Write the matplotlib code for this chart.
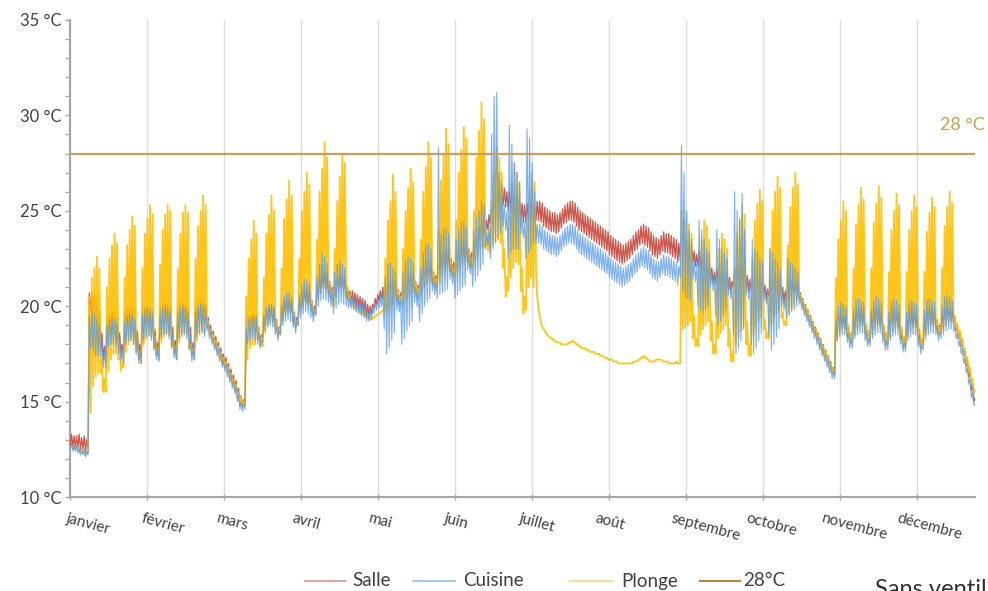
import numpy as np
import matplotlib
matplotlib.use("Agg")
import matplotlib.pyplot as plt
from matplotlib.lines import Line2D

plt.rcParams['font.family'] = ['Lato', 'DejaVu Sans']

months = ["janvier", "février", "mars", "avril", "mai", "juin", "juillet",
          "août", "septembre", "octobre", "novembre", "décembre"]
y_ticks = [10, 15, 20, 25, 30, 35]
threshold = 28
days_per_month_tick = 730 / 24.0  # hourly axis, one label every 730 h

# daily (first sample, second sample) values, day 0 = 1 Jan
salle_hi = [
    13.3, 13.2, 13.2, 13.3, 13.1, 13.2, 13.0,
    20.7, 20.7, 20.6, 20.4, 19.8, 18.6, 17.9,
    19.5, 19.7, 19.8, 19.7, 19.5, 18.6, 18.0,
    19.7, 19.9, 20.0, 19.9, 19.7, 18.7, 18.0,
    19.9, 20.1, 20.1, 20.0, 19.8, 18.8, 18.1,
    20.0, 20.1, 20.2, 20.1, 19.9, 18.9, 18.2,
    20.0, 20.2, 20.2, 20.1, 19.9, 18.9, 18.1,
    20.0, 20.3, 20.4, 20.3, 20.1,
    19.4, 19.0, 18.7, 18.4, 18.1, 17.8, 17.5, 17.3, 17.0, 16.7, 16.4, 16.1, 15.7, 15.3, 15.1,
    19.3, 19.5, 19.6, 19.6, 19.5, 18.9, 18.5,
    19.6, 19.9, 20.0, 20.0, 19.9, 19.3, 18.9,
    20.0, 20.3, 20.4, 20.4, 20.3, 19.7, 19.4,
    20.4, 20.7, 20.9, 20.9, 20.8, 20.3, 20.0,
    21.0, 21.4, 21.7, 21.8, 21.7, 21.3, 21.0,
    21.3, 21.5, 21.6, 21.6, 21.5, 21.0, 20.8,
    20.8, 20.7, 20.6, 20.5, 20.4, 20.3, 20.1, 20.0, 20.1, 20.4, 20.6, 20.8, 21.0,
    21.0, 21.3, 21.4, 21.4, 21.3, 20.9, 20.7,
    21.2, 21.5, 21.7, 21.8, 21.7, 21.3, 21.1,
    21.6, 22.0, 22.2, 22.3, 22.2, 21.8, 21.6,
    22.2, 22.6, 22.9, 23.0, 22.9, 22.5, 22.3,
    22.7, 23.0, 23.3, 23.4, 23.3, 23.0, 22.8,
    23.2, 23.7, 24.1, 24.4, 24.6, 24.5, 24.8,
    25.2, 25.5, 25.8, 26.1, 26.3, 26.2, 26.0,
    26.0, 26.0, 25.9, 25.7, 25.6, 25.4, 25.3,
    25.4, 25.5, 25.4, 25.3,
    25.5, 25.5, 25.4, 25.2, 25.1, 25.0, 24.9, 24.9, 24.8, 24.9, 25.1, 25.3, 25.4, 25.5,
    25.5, 25.4, 25.2, 25.0, 24.9, 24.8, 24.7, 24.6, 24.5, 24.4, 24.3, 24.2, 24.1, 24.0,
    23.9, 23.7, 23.6, 23.5, 23.4, 23.3, 23.2, 23.3, 23.4, 23.5, 23.7, 23.9, 24.0, 24.2,
    24.3, 24.2, 24.1, 23.9, 23.7, 23.6, 23.5, 23.7, 23.9, 23.8, 23.8, 23.7, 23.6, 23.5, 23.3,
    23.6, 23.5, 23.4, 23.3, 23.2, 22.9, 22.7,
    22.9, 22.8, 22.7, 22.5, 22.3, 22.0, 21.8,
    21.9, 22.0, 22.0, 21.9, 21.8, 21.5, 21.3,
    21.9, 22.2, 22.3, 22.2, 22.0, 21.6, 21.4,
    21.5, 21.8, 21.9, 21.8, 21.6, 21.1, 20.9,
    21.2, 21.6, 21.7, 21.6, 21.5, 21.0, 20.8,
    21.0, 21.3, 21.4, 21.3, 21.1,
    20.7, 20.4, 20.1, 19.8, 19.5, 19.2, 18.9, 18.6, 18.3, 18.0, 17.7, 17.4, 17.1, 16.8,
    19.6, 19.7, 19.6, 19.5, 19.4, 18.9, 18.6,
    19.5, 19.8, 19.9, 19.8, 19.7, 19.0, 18.7,
    19.5, 19.8, 19.9, 19.8, 19.7, 19.0, 18.6,
    19.4, 19.7, 19.8, 19.7, 19.6, 18.8, 18.4,
    19.4, 19.7, 19.8, 19.7, 19.6, 18.8, 18.3,
    19.5, 19.8, 19.9, 19.9, 19.8, 19.3, 19.0,
    19.7, 19.9, 20.0, 19.9, 19.8,
    19.4, 19.0, 18.6, 18.2, 17.7, 17.2, 16.6, 15.9, 15.2,
]
salle_lo = [
    12.7, 12.6, 12.6, 12.6, 12.5, 12.5, 12.4,
    12.5, 19.8, 19.5, 19.0, 18.6, 17.9, 17.2,
    17.2, 18.6, 18.8, 18.8, 18.6, 18.0, 17.5,
    17.5, 18.8, 19.0, 19.0, 18.8, 18.0, 17.4,
    17.4, 18.9, 19.1, 19.1, 18.9, 18.1, 17.5,
    17.5, 19.0, 19.2, 19.2, 19.0, 18.2, 17.6,
    17.6, 19.0, 19.2, 19.2, 19.0, 18.1, 17.5,
    17.5, 19.1, 19.3, 19.3, 19.1,
    19.0, 18.6, 18.3, 18.0, 17.7, 17.4, 17.1, 16.9, 16.6, 16.3, 16.0, 15.7, 15.3, 14.8, 14.7,
    14.8, 18.8, 19.0, 19.0, 18.9, 18.4, 18.0,
    18.4, 19.2, 19.4, 19.4, 19.3, 18.8, 18.5,
    18.9, 19.6, 19.8, 19.8, 19.7, 19.2, 18.9,
    19.3, 20.0, 20.2, 20.2, 20.1, 19.8, 19.5,
    19.9, 20.6, 20.9, 21.0, 20.9, 20.6, 20.4,
    20.3, 20.8, 20.9, 21.0, 20.9, 20.5, 20.3,
    20.2, 20.1, 20.0, 19.9, 19.8, 19.7, 19.5, 19.5, 19.6, 19.9, 20.1, 20.3, 20.4,
    20.3, 20.6, 20.7, 20.7, 20.6, 20.3, 20.1,
    20.5, 20.8, 21.0, 21.1, 21.0, 20.7, 20.5,
    20.9, 21.3, 21.5, 21.6, 21.5, 21.2, 21.0,
    21.5, 21.9, 22.1, 22.2, 22.1, 21.8, 21.6,
    22.0, 22.3, 22.5, 22.6, 22.5, 22.3, 22.1,
    22.5, 23.0, 23.3, 23.6, 23.8, 23.8, 24.0,
    24.3, 24.6, 24.9, 25.2, 25.4, 25.3, 25.2,
    25.0, 25.0, 24.9, 24.8, 24.6, 24.5, 24.4,
    24.4, 24.5, 24.5, 24.6,
    24.5, 24.5, 24.4, 24.2, 24.1, 24.0, 23.9, 23.9, 23.8, 23.9, 24.1, 24.3, 24.4, 24.5,
    24.5, 24.4, 24.2, 24.0, 23.9, 23.8, 23.7, 23.6, 23.5, 23.4, 23.3, 23.2, 23.1, 23.0,
    22.9, 22.7, 22.6, 22.5, 22.4, 22.3, 22.2, 22.3, 22.4, 22.5, 22.7, 22.9, 23.0, 23.2,
    23.3, 23.2, 23.1, 22.9, 22.7, 22.6, 22.5, 22.7, 22.9, 22.8, 22.8, 22.7, 22.6, 22.5, 22.3,
    22.4, 22.6, 22.6, 22.5, 22.4, 22.3, 22.1,
    22.1, 22.0, 21.9, 21.8, 21.6, 21.4, 21.2,
    21.2, 21.3, 21.3, 21.2, 21.1, 20.9, 20.8,
    21.0, 21.4, 21.5, 21.4, 21.3, 21.0, 20.8,
    20.8, 21.1, 21.2, 21.1, 21.0, 20.6, 20.4,
    20.5, 20.9, 21.0, 20.9, 20.8, 20.4, 20.2,
    20.4, 20.7, 20.8, 20.7, 20.6,
    20.4, 20.1, 19.8, 19.5, 19.2, 18.9, 18.6, 18.3, 18.0, 17.7, 17.4, 17.1, 16.8, 16.5,
    16.4, 19.0, 19.0, 18.9, 18.8, 18.4, 18.1,
    18.1, 19.1, 19.2, 19.2, 19.1, 18.6, 18.2,
    18.2, 19.1, 19.2, 19.2, 19.1, 18.5, 18.0,
    18.0, 19.0, 19.1, 19.1, 19.0, 18.3, 17.9,
    17.9, 19.0, 19.1, 19.1, 19.0, 18.3, 17.8,
    18.0, 19.1, 19.2, 19.2, 19.1, 18.8, 18.5,
    18.6, 19.2, 19.3, 19.3, 19.2,
    19.1, 18.7, 18.3, 17.9, 17.4, 16.9, 16.3, 15.6, 15.0,
]
cuisine_hi = [
    12.8, 12.7, 12.7, 12.6, 12.5, 12.5, 12.4,
    19.5, 19.8, 19.6, 19.3, 19.0, 18.2, 17.6,
    19.0, 19.3, 19.4, 19.3, 19.1, 18.3, 17.7,
    19.2, 19.5, 19.6, 19.5, 19.3, 18.4, 17.7,
    19.5, 19.8, 19.9, 19.8, 19.6, 18.5, 17.8,
    19.6, 19.9, 20.0, 19.9, 19.7, 18.6, 17.9,
    19.6, 19.9, 20.0, 19.9, 19.7, 18.6, 17.8,
    19.7, 20.0, 20.1, 20.0, 19.8,
    19.1, 18.7, 18.4, 18.1, 17.8, 17.5, 17.2, 17.0, 16.7, 16.4, 16.1, 15.8, 15.4, 15.0, 14.9,
    18.8, 19.3, 19.4, 19.5, 19.4, 18.6, 18.2,
    19.5, 19.9, 20.1, 20.1, 20.0, 19.0, 18.7,
    20.0, 20.5, 20.7, 20.7, 20.5, 19.5, 19.2,
    20.6, 21.1, 21.4, 21.4, 21.2, 20.1, 19.8,
    21.5, 22.2, 22.8, 22.6, 22.3, 21.1, 20.8,
    21.8, 22.2, 22.4, 22.2, 22.0, 20.8, 20.5,
    20.5, 20.4, 20.3, 20.2, 20.1, 20.0, 19.8, 19.8, 19.9, 20.2, 20.4, 20.5, 20.7,
    21.5, 22.2, 22.3, 22.0, 21.8, 20.6, 20.4,
    21.8, 22.4, 22.6, 22.5, 22.3, 21.0, 20.8,
    22.0, 22.8, 23.2, 23.3, 23.0, 21.5, 21.3,
    28.3, 23.8, 24.0, 24.1, 23.8, 22.2, 22.0,
    23.5, 24.0, 24.4, 24.5, 24.2, 22.7, 22.5,
    24.0, 24.6, 25.0, 25.5, 25.3, 23.8, 24.2,
    29.0, 31.0, 31.2, 27.0, 26.5, 25.3, 25.0,
    29.5, 28.5, 27.5, 27.0, 26.5, 24.6, 24.4,
    29.3, 28.8, 27.5, 26.0,
    24.3, 24.3, 24.2, 24.0, 23.9, 23.8, 23.7, 23.7, 23.6, 23.7, 23.9, 24.1, 24.2, 24.3,
    24.3, 24.2, 24.0, 23.8, 23.7, 23.6, 23.5, 23.4, 23.3, 23.2, 23.1, 23.0, 22.9, 22.8,
    22.7, 22.5, 22.4, 22.3, 22.2, 22.1, 22.0, 22.1, 22.2, 22.3, 22.5, 22.7, 22.8, 23.0,
    23.1, 23.0, 22.9, 22.7, 22.5, 22.4, 22.3, 22.5, 22.7, 22.6, 22.6, 22.5, 22.4, 22.3, 22.1,
    28.4, 27.0, 25.0, 24.0, 23.5, 22.4, 22.2,
    24.5, 24.0, 23.5, 23.0, 22.8, 21.8, 21.6,
    24.0, 23.5, 23.0, 22.8, 22.5, 21.3, 21.0,
    26.0, 25.0, 24.5, 25.9, 24.0, 21.4, 21.2,
    23.5, 23.0, 22.8, 22.5, 22.3, 21.0, 20.8,
    23.0, 22.8, 22.5, 22.3, 22.0, 20.7, 20.5,
    22.5, 22.3, 22.2, 22.0, 21.8,
    20.5, 20.2, 19.9, 19.6, 19.3, 19.0, 18.7, 18.4, 18.1, 17.8, 17.5, 17.2, 16.9, 16.6,
    19.3, 20.0, 20.2, 20.1, 20.0, 18.6, 18.3,
    19.8, 20.3, 20.4, 20.3, 20.2, 18.7, 18.3,
    19.8, 20.3, 20.5, 20.4, 20.2, 18.6, 18.2,
    19.7, 20.2, 20.4, 20.3, 20.1, 18.5, 18.1,
    19.7, 20.2, 20.3, 20.2, 20.1, 18.5, 18.0,
    19.8, 20.3, 20.4, 20.3, 20.2, 19.0, 18.7,
    20.0, 20.5, 20.6, 20.5, 20.3,
    19.0, 18.6, 18.2, 17.8, 17.3, 16.8, 16.2, 15.5, 14.9,
]
cuisine_lo = [
    12.5, 12.4, 12.4, 12.3, 12.2, 12.2, 12.1,
    12.2, 17.8, 17.6, 17.4, 17.4, 17.4, 16.8,
    16.8, 17.8, 18.0, 18.0, 17.9, 17.5, 17.1,
    17.0, 18.0, 18.2, 18.2, 18.0, 17.5, 17.0,
    17.0, 18.2, 18.4, 18.4, 18.2, 17.7, 17.2,
    17.1, 18.3, 18.5, 18.5, 18.3, 17.8, 17.3,
    17.2, 18.3, 18.5, 18.5, 18.3, 17.7, 17.1,
    17.2, 18.4, 18.6, 18.6, 18.4,
    18.7, 18.3, 18.0, 17.7, 17.4, 17.1, 16.8, 16.6, 16.3, 16.0, 15.7, 15.4, 15.0, 14.6, 14.5,
    14.6, 18.0, 18.2, 18.3, 18.2, 18.0, 17.8,
    18.1, 18.7, 18.9, 19.0, 18.9, 18.5, 18.2,
    18.5, 19.0, 19.2, 19.3, 19.2, 18.9, 18.6,
    19.0, 19.4, 19.6, 19.7, 19.6, 19.4, 19.2,
    19.5, 20.0, 20.3, 20.4, 20.3, 20.2, 20.0,
    19.6, 19.9, 20.1, 20.2, 20.1, 20.0, 19.9,
    19.9, 19.8, 19.7, 19.6, 19.5, 19.4, 19.2, 19.2, 19.3, 19.6, 19.8, 19.9, 20.0,
    18.8, 17.5, 17.8, 18.2, 18.6, 19.8, 19.7,
    18.0, 18.3, 18.7, 19.0, 19.2, 20.2, 20.0,
    19.2, 19.6, 20.0, 20.2, 20.4, 20.8, 20.6,
    20.4, 20.6, 20.7, 20.8, 20.9, 21.4, 21.2,
    20.4, 20.6, 20.8, 21.0, 21.1, 21.9, 21.7,
    21.0, 21.3, 21.6, 21.9, 22.2, 23.0, 23.2,
    22.5, 23.0, 23.3, 23.6, 23.8, 24.2, 24.0,
    22.5, 22.8, 23.0, 23.0, 23.0, 23.8, 23.6,
    22.5, 22.8, 23.0, 23.3,
    23.3, 23.3, 23.2, 23.0, 22.9, 22.8, 22.7, 22.7, 22.6, 22.7, 22.9, 23.1, 23.2, 23.3,
    23.3, 23.2, 23.0, 22.8, 22.7, 22.6, 22.5, 22.4, 22.3, 22.2, 22.1, 22.0, 21.9, 21.8,
    21.7, 21.5, 21.4, 21.3, 21.2, 21.1, 21.0, 21.1, 21.2, 21.3, 21.5, 21.7, 21.8, 22.0,
    22.1, 22.0, 21.9, 21.7, 21.5, 21.4, 21.3, 21.5, 21.7, 21.6, 21.6, 21.5, 21.4, 21.3, 21.1,
    21.5, 20.8, 20.5, 20.4, 20.3, 21.4, 21.3,
    20.0, 19.8, 19.6, 19.8, 20.0, 21.0, 20.8,
    19.5, 19.0, 19.2, 19.5, 19.8, 20.6, 20.4,
    18.5, 17.5, 17.8, 18.2, 18.8, 20.6, 20.4,
    18.0, 17.5, 17.8, 18.2, 18.6, 20.3, 20.1,
    18.5, 17.7, 18.0, 18.4, 18.8, 20.0, 19.8,
    19.4, 19.5, 19.7, 19.8, 20.0,
    20.1, 19.8, 19.5, 19.2, 18.9, 18.6, 18.3, 18.0, 17.7, 17.4, 17.1, 16.8, 16.5, 16.2,
    16.2, 18.2, 18.4, 18.5, 18.5, 18.1, 17.8,
    17.8, 18.3, 18.5, 18.6, 18.6, 18.2, 17.9,
    17.9, 18.3, 18.5, 18.6, 18.6, 18.1, 17.7,
    17.7, 18.2, 18.4, 18.5, 18.5, 18.0, 17.6,
    17.6, 18.2, 18.4, 18.5, 18.5, 17.9, 17.5,
    17.7, 18.3, 18.5, 18.6, 18.6, 18.5, 18.2,
    18.3, 18.5, 18.7, 18.8, 18.8,
    18.7, 18.3, 17.9, 17.5, 17.0, 16.5, 15.9, 15.2, 14.8,
]
plonge_hi = [
    12.7, 12.6, 12.6, 12.5, 12.4, 12.4, 12.3,
    20.5, 21.5, 22.0, 22.6, 22.0, 17.2, 16.2,
    21.0, 22.5, 23.2, 23.8, 23.3, 17.8, 17.0,
    21.5, 23.2, 24.0, 24.7, 24.2, 18.2, 17.6,
    22.0, 23.8, 24.6, 25.3, 24.8, 18.4, 17.8,
    22.2, 24.0, 24.8, 25.3, 25.0, 18.5, 17.9,
    22.0, 23.8, 24.9, 25.3, 24.9, 18.4, 17.8,
    22.5, 24.2, 25.0, 25.8, 25.3,
    19.2, 18.8, 18.5, 18.2, 17.9, 17.6, 17.3, 17.1, 16.8, 16.5, 16.2, 15.9, 15.5, 15.2, 15.0,
    20.5, 22.5, 23.5, 24.5, 23.8, 18.8, 18.2,
    21.5, 23.8, 24.8, 25.8, 25.0, 19.2, 18.7,
    22.0, 24.6, 25.6, 26.6, 25.8, 19.6, 19.2,
    22.5, 25.0, 26.0, 27.0, 26.4, 20.2, 19.8,
    23.5, 26.0, 27.2, 28.6, 27.8, 21.2, 20.8,
    23.0, 25.5, 26.8, 28.0, 27.5, 21.0, 20.6,
    20.2, 20.0, 19.9, 19.8, 19.7, 19.6, 19.5, 19.4, 19.4, 19.5, 19.6, 19.7, 19.8,
    22.5, 24.5, 25.5, 26.9, 26.0, 20.8, 20.5,
    23.0, 25.0, 26.2, 27.2, 26.5, 21.2, 20.9,
    23.5, 26.0, 27.3, 28.6, 27.8, 21.7, 21.4,
    24.0, 26.6, 28.0, 29.3, 28.5, 22.3, 22.0,
    24.5, 27.0, 28.2, 29.4, 28.8, 22.8, 22.5,
    25.0, 27.8, 29.2, 30.7, 29.8, 24.0, 23.8,
    25.5, 27.0, 28.3, 27.8, 27.0, 23.0, 21.5,
    25.0, 26.5, 27.5, 27.0, 26.5, 22.0, 20.5,
    24.5, 26.0, 27.0, 26.5,
    20.5, 19.5, 18.9, 18.7, 18.5, 18.4, 18.3, 18.2, 18.1, 18.1, 18.0, 18.0, 18.0, 18.1,
    18.2, 18.1, 18.0, 17.9, 17.8, 17.8, 17.7, 17.6, 17.6, 17.5, 17.5, 17.4, 17.4, 17.3,
    17.2, 17.2, 17.1, 17.1, 17.0, 17.0, 17.0, 17.0, 17.0, 17.0, 17.1, 17.1, 17.2, 17.3,
    17.4, 17.3, 17.2, 17.1, 17.1, 17.2, 17.2, 17.2, 17.1, 17.1, 17.0, 17.0, 17.0, 17.1, 17.0,
    25.0, 24.5, 24.9, 24.3, 23.8, 19.5, 18.3,
    22.0, 23.5, 24.5, 24.2, 23.5, 19.2, 18.0,
    21.5, 23.0, 23.8, 23.5, 23.0, 18.8, 17.6,
    22.0, 23.8, 24.6, 25.3, 24.8, 19.2, 18.0,
    22.5, 24.5, 25.4, 26.1, 25.5, 19.3, 18.6,
    23.0, 25.0, 26.0, 26.8, 26.2, 19.7, 19.2,
    23.2, 25.2, 26.2, 27.0, 26.4,
    20.6, 20.3, 20.0, 19.7, 19.4, 19.1, 18.8, 18.5, 18.2, 17.9, 17.6, 17.3, 17.0, 16.7,
    21.5, 23.5, 24.5, 25.5, 25.0, 19.0, 18.6,
    22.0, 24.3, 25.3, 26.2, 25.6, 19.1, 18.7,
    22.0, 24.4, 25.4, 26.3, 25.7, 19.0, 18.6,
    21.8, 24.0, 25.0, 25.9, 25.3, 18.9, 18.4,
    21.8, 24.0, 25.0, 25.8, 25.2, 18.8, 18.3,
    21.8, 23.9, 24.9, 25.7, 25.2, 19.2, 18.9,
    22.0, 24.2, 25.2, 26.0, 25.4,
    19.5, 19.1, 18.7, 18.3, 17.8, 17.3, 16.8, 16.2, 15.6,
]
plonge_lo = [
    12.6, 12.5, 12.5, 12.4, 12.3, 12.3, 12.2,
    12.3, 14.4, 15.8, 16.3, 16.5, 16.5, 15.5,
    15.5, 16.6, 17.2, 17.5, 17.5, 17.2, 16.6,
    16.8, 17.6, 18.0, 18.2, 18.0, 17.6, 17.2,
    17.0, 18.0, 18.3, 18.5, 18.4, 17.8, 17.4,
    17.2, 18.1, 18.4, 18.6, 18.5, 17.9, 17.5,
    17.2, 18.1, 18.4, 18.6, 18.5, 17.8, 17.4,
    17.2, 18.2, 18.5, 18.7, 18.6,
    18.9, 18.5, 18.2, 17.9, 17.6, 17.3, 17.0, 16.8, 16.5, 16.2, 15.9, 15.6, 15.2, 14.9, 14.8,
    14.8, 17.2, 17.8, 18.0, 18.0, 18.3, 17.9,
    17.9, 18.6, 19.0, 19.2, 19.2, 18.9, 18.5,
    18.5, 19.2, 19.5, 19.7, 19.7, 19.4, 19.0,
    19.0, 19.7, 20.0, 20.2, 20.1, 19.9, 19.6,
    19.6, 20.3, 20.7, 21.0, 21.0, 20.7, 20.4,
    20.0, 20.5, 20.8, 21.0, 21.0, 20.6, 20.3,
    20.1, 19.9, 19.8, 19.7, 19.6, 19.5, 19.4, 19.3, 19.3, 19.4, 19.5, 19.6, 19.7,
    19.8, 19.6, 19.8, 20.0, 20.1, 20.4, 20.2,
    20.0, 20.2, 20.4, 20.6, 20.7, 20.8, 20.5,
    20.4, 20.7, 21.0, 21.2, 21.3, 21.3, 21.0,
    21.0, 21.3, 21.6, 21.8, 21.9, 21.9, 21.6,
    21.5, 21.8, 22.0, 22.2, 22.3, 22.3, 22.1,
    22.0, 22.4, 22.7, 23.0, 23.1, 23.1, 22.9,
    22.8, 23.2, 23.4, 23.5, 23.3, 22.0, 20.5,
    20.8, 21.5, 22.0, 22.3, 22.2, 20.8, 19.6,
    19.8, 21.0, 21.5, 21.0,
    22.0, 19.8, 19.1, 18.8, 18.6, 18.4, 18.3, 18.2, 18.1, 18.1, 18.0, 18.0, 18.0, 18.1,
    18.1, 18.1, 18.0, 17.9, 17.8, 17.8, 17.7, 17.7, 17.6, 17.6, 17.5, 17.5, 17.4, 17.3,
    17.3, 17.2, 17.2, 17.1, 17.1, 17.0, 17.0, 17.0, 17.0, 17.0, 17.0, 17.1, 17.1, 17.2,
    17.3, 17.3, 17.2, 17.1, 17.1, 17.1, 17.2, 17.2, 17.1, 17.1, 17.1, 17.0, 17.0, 17.0, 17.0,
    17.0, 18.8, 18.9, 19.0, 19.2, 18.3, 17.9,
    17.9, 18.5, 18.8, 19.0, 19.2, 18.2, 17.5,
    17.5, 18.3, 18.6, 18.8, 19.0, 17.9, 17.1,
    17.1, 18.0, 18.4, 18.7, 18.9, 18.0, 17.4,
    17.4, 18.5, 18.9, 19.2, 19.4, 18.8, 18.3,
    18.3, 19.0, 19.4, 19.6, 19.8, 19.4, 19.0,
    19.0, 19.6, 19.9, 20.1, 20.3,
    20.4, 20.1, 19.8, 19.5, 19.2, 18.9, 18.6, 18.3, 18.0, 17.7, 17.4, 17.1, 16.8, 16.5,
    16.4, 18.2, 18.6, 18.8, 18.9, 18.5, 18.1,
    18.1, 18.5, 18.8, 19.0, 19.0, 18.6, 18.2,
    18.2, 18.5, 18.8, 19.0, 19.0, 18.5, 18.0,
    18.0, 18.4, 18.7, 18.9, 18.9, 18.3, 17.9,
    17.9, 18.4, 18.7, 18.9, 18.9, 18.3, 17.8,
    18.0, 18.5, 18.8, 19.0, 19.0, 18.8, 18.5,
    18.6, 18.8, 19.0, 19.2, 19.2,
    19.2, 18.8, 18.4, 18.0, 17.5, 17.0, 16.5, 15.9, 15.4,
]


def zigzag(lo, hi):
    n = min(len(lo), len(hi))
    d = np.arange(n, dtype=float)
    x = np.empty(2 * n)
    y = np.empty(2 * n)
    x[0::2] = d + 0.15
    x[1::2] = d + 0.6
    y[0::2] = lo[:n]
    y[1::2] = hi[:n]
    return x, y


W, H = 988, 591
fig = plt.figure(figsize=(W / 100, H / 100), dpi=100)
ax = fig.add_axes([70 / W, 1 - 497 / H, 905 / W, 477 / H])

c_salle = '#C0392B'
c_cuis = '#5B9BE8'
c_plon = '#FFC000'
c_28 = '#C8A05A'

xs, ys = zigzag(salle_lo, salle_hi)
ax.plot(xs, ys, color=c_salle, lw=0.9, alpha=0.85, zorder=3)
xp, yp = zigzag(plonge_lo, plonge_hi)
ax.plot(xp, yp, color=c_plon, lw=1.3, alpha=0.9, zorder=4)
xc, yc = zigzag(cuisine_lo, cuisine_hi)
ax.plot(xc, yc, color=c_cuis, lw=0.8, alpha=0.8, zorder=5)
ax.axhline(threshold, color=c_28, lw=1.6, zorder=6)

ax.set_xlim(0, 357.6)
ax.set_ylim(10, 35)
month_pos = [i * days_per_month_tick for i in range(12)]
ax.set_xticks(month_pos)
ax.set_xticklabels([])
ax.set_yticks(y_ticks)
ax.set_yticklabels([f"{v} °C" for v in y_ticks])
ax.set_yticks(np.arange(10, 36, 1), minor=True)
ax.grid(axis='x', color='#DDDDDD', lw=1.0, zorder=0)
for s in ['top', 'right']:
    ax.spines[s].set_visible(False)
for s in ['left', 'bottom']:
    ax.spines[s].set_color('#A6A6A6')
    ax.spines[s].set_linewidth(1.5)
ax.tick_params(axis='y', which='both', direction='out', length=3.6, width=1,
               color='#A6A6A6', labelcolor='#404040', labelsize=12, pad=2.5)
ax.tick_params(axis='x', which='major', direction='inout', length=5, width=1,
               color='#A6A6A6')

for i, (pos, name) in enumerate(zip(month_pos, months)):
    ax.annotate(name, xy=(pos, 0), xycoords=('data', 'axes fraction'),
                xytext=(-2 - 1.4 * i, -14), textcoords='offset pixels',
                ha='left', va='top', rotation=-15, rotation_mode='anchor',
                fontsize=11, color='#404040')

fig.text(940 / W, 1 - 125 / H, '28 °C', color='#C8A050', fontsize=13, va='center')

# legend
ly = 1 - 581 / H
items = [('Salle', '#E8A0A0', 305, 345, 352),
         ('Cuisine', '#A8C8F4', 413, 455, 463),
         ('Plonge', '#FFDC9A', 570, 612, 621),
         ('28°C', '#B8862E', 700, 740, 743)]
for label, col, x0, x1, xt in items:
    fig.add_artist(Line2D([x0 / W, x1 / W], [ly, ly], transform=fig.transFigure,
                          color=col, lw=1.5))
    fig.text(xt / W, ly, label, fontsize=13.5, color='#404040', va='center', ha='left')

fig.text(875 / W, 1 - 579 / H, 'Sans ventilation', fontsize=17, color='#303030',
         va='top', ha='left')

fig.savefig('out.png', dpi=100)
